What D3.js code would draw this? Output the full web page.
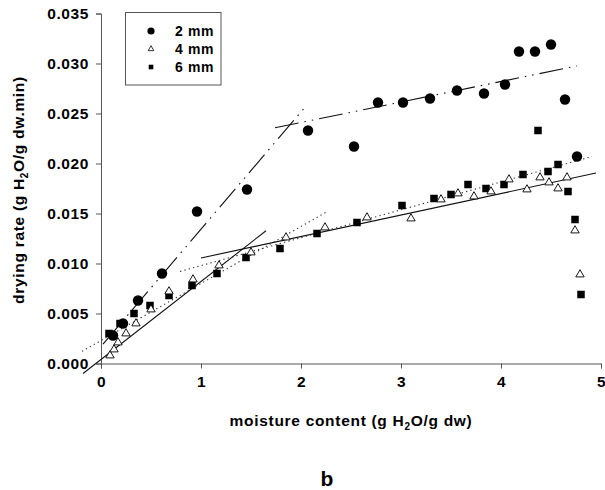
<!DOCTYPE html>
<html>
<head>
<meta charset="utf-8">
<script src="https://cdn.jsdelivr.net/npm/d3@7/dist/d3.min.js"></script>
<style>
  html, body { margin: 0; padding: 0; background: #fff; }
  svg { display: block; font-family: "Liberation Sans", Arial, sans-serif; }
  .tick text { font-weight: bold; font-size: 15.5px; letter-spacing: 0.6px; fill: #000; }
</style>
</head>
<body>
<svg id="chart" width="605" height="490"></svg>
<script>
// Drying rate vs moisture content for three slice thicknesses
const moist2 = [0.12, 0.22, 0.37, 0.61, 0.96, 1.46, 2.07, 2.53, 2.77, 3.02, 3.29, 3.56, 3.83, 4.04, 4.18, 4.34, 4.50, 4.64, 4.76];
const rate2  = [0.0028, 0.0040, 0.0063, 0.0090, 0.0152, 0.0174, 0.0233, 0.0217, 0.0261, 0.0261, 0.0265, 0.0273, 0.0270, 0.0279, 0.0312, 0.0312, 0.0319, 0.0264, 0.0207];

const moist4 = [0.09, 0.13, 0.17, 0.25, 0.35, 0.50, 0.68, 0.92, 1.18, 1.50, 1.85, 2.24, 2.66, 3.10, 3.40, 3.57, 3.73, 3.90, 4.08, 4.26, 4.39, 4.48, 4.57, 4.66, 4.74, 4.79];
const rate4  = [0.0008, 0.0014, 0.0021, 0.0030, 0.0040, 0.0054, 0.0072, 0.0084, 0.0098, 0.0111, 0.0126, 0.0136, 0.0146, 0.0145, 0.0164, 0.0170, 0.0167, 0.0172, 0.0184, 0.0174, 0.0186, 0.0181, 0.0175, 0.0186, 0.0133, 0.0089];

const moist6 = [0.08, 0.19, 0.33, 0.49, 0.68, 0.91, 1.16, 1.45, 1.79, 2.16, 2.56, 3.01, 3.33, 3.50, 3.67, 3.85, 4.03, 4.22, 4.37, 4.47, 4.57, 4.67, 4.74, 4.80];
const rate6  = [0.0030, 0.0040, 0.0050, 0.0058, 0.0068, 0.0078, 0.0090, 0.0106, 0.0115, 0.0130, 0.0141, 0.0158, 0.0165, 0.0169, 0.0179, 0.0175, 0.0179, 0.0189, 0.0233, 0.0192, 0.0199, 0.0172, 0.0144, 0.0069];

const seriesNames = ["2 mm", "4 mm", "6 mm"];

// Linear fits (rate = intercept + slope * moisture) over the moisture range each covers
const fitSeries    = ["2 mm", "2 mm", "4 mm", "4 mm", "6 mm", "6 mm"];
const fitIntercept = [0.0017, 0.0200, 0.0004, 0.0084, 0.0023, 0.0070];
const fitSlope     = [0.01173, 0.00205, 0.0078, 0.00215, 0.0057, 0.00279];
const fitFrom      = [0.02, 1.74, -0.18, 1.00, -0.19, 0.79];
const fitTo        = [2.03, 4.76, 1.65, 4.95, 2.27, 4.91];

const xTicks = [0, 1, 2, 3, 4, 5];
const yTicks = [0, 0.005, 0.010, 0.015, 0.020, 0.025, 0.030, 0.035];

const svg = d3.select("#chart");
svg.append("rect").attr("width", 605).attr("height", 490).attr("fill", "#fff");

const x = d3.scaleLinear().domain([0, 5]).range([101, 601]);
const y = d3.scaleLinear().domain([0, 0.035]).range([363.5, 13.5]);

const axisColor = "#555";

// Axes
const gx = svg.append("g").attr("transform", `translate(0,${y(0)})`)
  .call(d3.axisBottom(x).tickValues(xTicks).tickFormat(d3.format("d")).tickSize(5).tickPadding(7));
const gy = svg.append("g").attr("transform", `translate(${x(0)},0)`)
  .call(d3.axisLeft(y).tickValues(yTicks).tickFormat(d3.format(".3f")).tickSize(5).tickPadding(7));
[gx, gy].forEach(g => {
  g.select(".domain").attr("stroke", axisColor).attr("stroke-width", 1);
  g.selectAll(".tick line").attr("stroke", axisColor);
});

// Fit lines
const lineStyle = {
  "2 mm": { dash: "24,6,1.5,6,1.5,6", width: 1.1 },
  "4 mm": { dash: null, width: 1.1 },
  "6 mm": { dash: "1.3,3.2", width: 1.1 }
};
const line = d3.line().x(d => x(d[0])).y(d => y(d[1]));
const fits = fitSeries.map((s, i) => ({
  series: s,
  pts: [fitFrom[i], fitTo[i]].map(m => [m, fitIntercept[i] + fitSlope[i] * m])
}));
svg.append("g").selectAll("path").data(fits).join("path")
  .attr("d", d => line(d.pts))
  .attr("fill", "none")
  .attr("stroke", d => d.series === "6 mm" ? "#333" : "#111")
  .attr("stroke-width", d => lineStyle[d.series].width)
  .attr("stroke-dasharray", d => lineStyle[d.series].dash);

// Markers
const pts6 = moist6.map((m, i) => [m, rate6[i]]);
const pts4 = moist4.map((m, i) => [m, rate4[i]]);
const pts2 = moist2.map((m, i) => [m, rate2[i]]);

const sqSize = 7.5;
svg.append("g").selectAll("rect").data(pts6).join("rect")
  .attr("x", d => x(d[0]) - sqSize / 2).attr("y", d => y(d[1]) - sqSize / 2)
  .attr("width", sqSize).attr("height", sqSize).attr("fill", "#000");

const tri = d3.symbol().type(d3.symbolTriangle).size(30);
svg.append("g").selectAll("path").data(pts4).join("path")
  .attr("d", tri)
  .attr("transform", d => `translate(${x(d[0])},${y(d[1])})`)
  .attr("fill", "#fff").attr("stroke", "#000").attr("stroke-width", 0.9);

svg.append("g").selectAll("circle").data(pts2).join("circle")
  .attr("cx", d => x(d[0])).attr("cy", d => y(d[1])).attr("r", 5.2).attr("fill", "#000");

// Legend
const legend = svg.append("g");
legend.append("rect").attr("x", 125.5).attr("y", 12.5).attr("width", 95.5).attr("height", 72.5)
  .attr("fill", "#fff").attr("stroke", axisColor).attr("stroke-width", 1);
const legY = [31, 49, 67];
seriesNames.forEach((name, i) => {
  const cy = legY[i];
  if (i === 0) legend.append("circle").attr("cx", 151).attr("cy", cy).attr("r", 3.6).attr("fill", "#000");
  if (i === 1) legend.append("path").attr("d", d3.symbol().type(d3.symbolTriangle).size(14))
      .attr("transform", `translate(151,${cy})`).attr("fill", "#fff").attr("stroke", "#000").attr("stroke-width", 0.8);
  if (i === 2) legend.append("rect").attr("x", 151 - 2.3).attr("y", cy - 2.3).attr("width", 4.6).attr("height", 4.6).attr("fill", "#000");
  legend.append("text").attr("x", 175).attr("y", cy + 5)
    .attr("font-size", 14).attr("font-weight", "bold").attr("letter-spacing", 0.6).text(name);
});

// Axis titles with subscript 2
function title(sel, before, after) {
  sel.append("tspan").text(before + "H");
  sel.append("tspan").attr("font-size", 10).attr("dy", 4).text("2");
  sel.append("tspan").attr("dy", -4).text("O" + after);
}
const xt = svg.append("text").attr("x", 351).attr("y", 426).attr("text-anchor", "middle")
  .attr("font-size", 15.5).attr("font-weight", "bold").attr("letter-spacing", 0.7);
title(xt, "moisture content (g ", "/g dw)");

const yt = svg.append("text").attr("transform", "translate(24,190) rotate(-90)").attr("text-anchor", "middle")
  .attr("font-size", 15.5).attr("font-weight", "bold").attr("letter-spacing", 0.7);
title(yt, "drying rate (g ", "/g dw.min)");

svg.append("text").attr("x", 327).attr("y", 486).attr("text-anchor", "middle")
  .attr("font-size", 21).attr("font-weight", "bold").text("b");
</script>
</body>
</html>
